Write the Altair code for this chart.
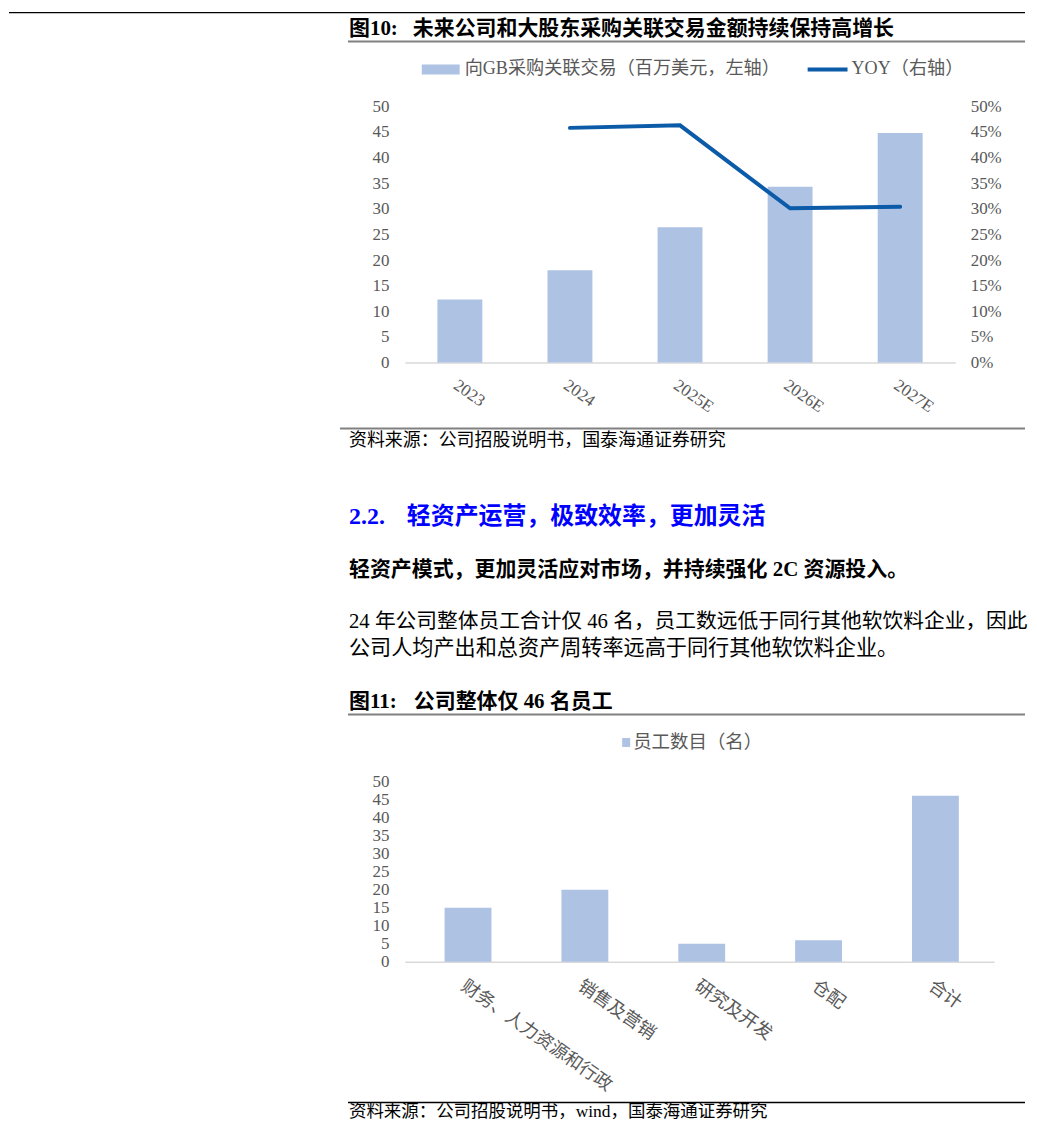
import altair as alt
import pandas as pd

# ---------------- data ----------------
YEARS = ["2023", "2024", "2025E", "2026E", "2027E"]
GB_PURCHASE = [12.3, 18.0, 26.4, 34.3, 44.8]          # 百万美元
YOY_YEARS = ["2024", "2025E", "2026E", "2027E"]
YOY = [0.458, 0.463, 0.301, 0.304]

DEPTS = ["财务、人力资源和行政", "销售及营销", "研究及开发", "仓配", "合计"]
STAFF = [15, 20, 5, 6, 46]

LEFT_TICKS = [0, 5, 10, 15, 20, 25, 30, 35, 40, 45, 50]
RIGHT_TICKS = [0, 0.05, 0.10, 0.15, 0.20, 0.25, 0.30, 0.35, 0.40, 0.45, 0.50]

# ---------------- text ----------------
FIG10_NO = "图10:"
FIG10_TITLE = "未来公司和大股东采购关联交易金额持续保持高增长"
LEG_BAR = "向GB采购关联交易（百万美元，左轴）"
LEG_LINE = "YOY（右轴）"
SRC1 = "资料来源：公司招股说明书，国泰海通证券研究"
H_NO = "2.2."
H_TEXT = "轻资产运营，极致效率，更加灵活"
BOLD_LINE = "轻资产模式，更加灵活应对市场，并持续强化 2C 资源投入。"
PARA1 = "24 年公司整体员工合计仅 46 名，员工数远低于同行其他软饮料企业，因此"
PARA2 = "公司人均产出和总资产周转率远高于同行其他软饮料企业。"
FIG11_NO = "图11:"
FIG11_TITLE = "公司整体仅 46 名员工"
LEG_STAFF = "员工数目（名）"
SRC2 = "资料来源：公司招股说明书，wind，国泰海通证券研究"

# ---------------- style ----------------
FONT = "'Liberation Serif', 'Noto Sans CJK SC', serif"
CJK = "'Noto Sans CJK SC', sans-serif"
BAR = "#AEC2E4"
LINE = "#0B5BA8"
GREY = "#595959"

ONE = alt.Data(values=[{"a": 1}])


def txt(s, x, y, size, color="black", weight="normal", font=FONT):
    return alt.Chart(alt.Data(values=[{"t": s}])).mark_text(
        align="left", baseline="middle", fontSize=size, font=font,
        fontWeight=weight, color=color
    ).encode(x=alt.value(x), y=alt.value(y), text="t:N")


def hrule(x1, x2, y, color="black", width=1.5):
    return alt.Chart(ONE).mark_rule(color=color, strokeWidth=width).encode(
        x=alt.value(x1), x2=alt.value(x2), y=alt.value(y)
    )


def axis_common(**kw):
    base = dict(title=None, ticks=False, grid=False, labelFont=FONT,
                labelFontSize=17, labelColor=GREY, labelOverlap=False)
    base.update(kw)
    return alt.Axis(**base)


# ---------------- chart 1 ----------------
W1, H1 = 552, 257
df_bar = pd.DataFrame({"year": YEARS, "amt": GB_PURCHASE})
df_yoy = pd.DataFrame({"year": YOY_YEARS, "yoy": YOY})

x1 = alt.X("year:N", sort=YEARS,
           scale=alt.Scale(domain=YEARS, paddingInner=0.592, paddingOuter=0.296),
           axis=axis_common(labelAngle=35, labelAlign="left", labelBaseline="top",
                            labelPadding=14, domainColor="#D9D9D9", domainWidth=1.5))

bars1 = alt.Chart(df_bar).mark_bar(color=BAR).encode(
    x=x1,
    y=alt.Y("amt:Q", scale=alt.Scale(domain=[0, 50], nice=False),
            axis=axis_common(values=LEFT_TICKS, domain=False, labelPadding=16)),
)
line1 = alt.Chart(df_yoy).mark_line(color=LINE, strokeWidth=4, strokeCap="round",
                                    strokeJoin="miter").encode(
    x=x1,
    y=alt.Y("yoy:Q", scale=alt.Scale(domain=[0, 0.5], nice=False),
            axis=axis_common(orient="right", values=RIGHT_TICKS, format=".0%",
                             domain=False, labelPadding=15)),
)

deco1 = [
    hrule(-397, 622, -94, "black", 1.5),
    txt(FIG10_NO, -56, -78, 21, weight="bold"),
    txt(FIG10_TITLE, 8, -78, 21, weight="bold"),
    hrule(-57, 622, -65, "#808080", 2),
    hrule(17, 55, -37, BAR, 10),
    txt(LEG_BAR, 60, -37, 18.2, GREY),
    hrule(404, 444, -37, LINE, 4),
    txt(LEG_LINE, 448, -37, 18.2, GREY),
    hrule(-65, 622, 323, "#808080", 2),
    txt(SRC1, -56, 336, 18),
    txt(H_NO, -56, 412, 24, "#0000FF", "bold"),
    txt(H_TEXT, 2, 412, 24, "#0000FF", "bold"),
    txt(BOLD_LINE, -56, 465, 21, weight="bold"),
    txt(PARA1, -56, 517, 20.8),
    txt(PARA2, -56, 544, 21.2),
    hrule(0, 10, 575, "white", 1),
]

chart1 = alt.layer(bars1, line1, *deco1).resolve_scale(y="independent").properties(
    width=W1, height=H1)

# ---------------- chart 2 ----------------
W2, H2 = 591, 181
df_staff = pd.DataFrame({"dept": DEPTS, "n": STAFF})

bars2 = alt.Chart(df_staff).mark_bar(color=BAR).encode(
    x=alt.X("dept:N", sort=DEPTS,
            scale=alt.Scale(domain=DEPTS, paddingInner=0.599, paddingOuter=0.321, align=0.53),
            axis=axis_common(labelAngle=35, labelAlign="left", labelBaseline="top",
                             labelPadding=15, labelFont=CJK, labelFontSize=18,
                             labelLimit=0, domainColor="#D9D9D9", domainWidth=1.5)),
    y=alt.Y("n:Q", scale=alt.Scale(domain=[0, 50], nice=False),
            axis=axis_common(values=LEFT_TICKS, domain=False, labelPadding=16)),
)

deco2 = [
    hrule(0, 10, -100, "white", 1),
    txt(FIG11_NO, -56, -80, 21, weight="bold"),
    txt(FIG11_TITLE, 9, -80, 21, weight="bold"),
    hrule(-57, 622, -67, "#808080", 2),
    hrule(218, 226, -39, BAR, 9),
    txt(LEG_STAFF, 229, -39, 18.5, GREY),
    hrule(-57, 622, 322, "black", 1.5),
    txt(SRC2, -56, 332, 17.5),
]

chart2 = alt.layer(bars2, *deco2).properties(width=W2, height=H2)

chart = alt.vconcat(chart1, chart2, spacing=0).properties(
    padding={"left": 0, "top": 2, "right": 0, "bottom": 0},
    background="white",
).configure_view(stroke=None)

chart.save("out.html", embed_options={"renderer": "svg", "actions": False})
